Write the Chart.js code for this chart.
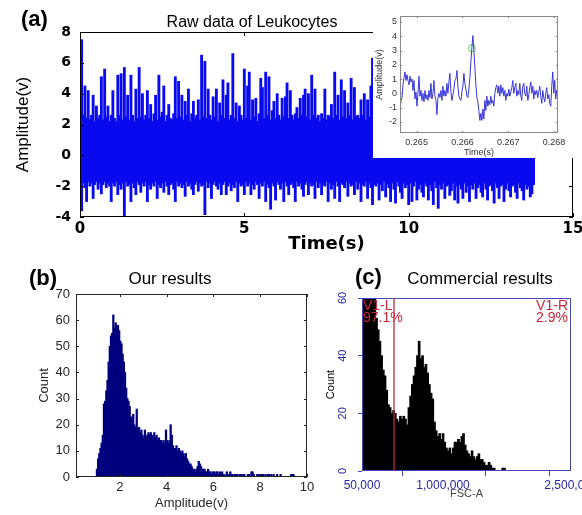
<!DOCTYPE html>
<html>
<head>
<meta charset="utf-8">
<title>Leukocytes: raw signal and amplitude histograms</title>
<script src="https://cdn.jsdelivr.net/npm/chart.js@4.4.1/dist/chart.umd.min.js"></script>
<style>
  body { margin: 0; background: #fff; }
  #page { position: relative; width: 582px; height: 515px; overflow: hidden; font-family: "Liberation Sans", Arial, sans-serif; }
  canvas, .txt { position: absolute; }
  .txt { white-space: nowrap; line-height: 1; color: #000; }
  .gate { color: #c8283c; font-size: 14px; }
</style>
</head>
<body>
<div id="page">
  <canvas id="raw" width="582" height="255" style="left:0px;top:0px"></canvas>
  <canvas id="zoom" width="209" height="158" style="left:373px;top:0px;background:#fff"></canvas>
  <canvas id="ours" width="320" height="260" style="left:0px;top:255px"></canvas>
  <canvas id="commercial" width="262" height="260" style="left:320px;top:255px"></canvas>

  <div class="txt" style="left:21px;top:8px;font-size:22px;font-weight:bold">(a)</div>
  <div class="txt" style="left:152px;top:14px;width:200px;text-align:center;font-size:16px">Raw data of Leukocytes</div>
  <div class="txt" style="left:29px;top:267px;font-size:22px;font-weight:bold">(b)</div>
  <div class="txt" style="left:100px;top:270px;width:140px;text-align:center;font-size:17px">Our results</div>
  <div class="txt" style="left:355px;top:266px;font-size:22px;font-weight:bold">(c)</div>
  <div class="txt" style="left:400px;top:270px;width:160px;text-align:center;font-size:17px">Commercial results</div>
  <div class="txt gate" id="gateLName" style="left:363px;top:298px"></div>
  <div class="txt gate" id="gateLPct" style="left:363px;top:310px"></div>
  <div class="txt gate" id="gateRName" style="right:14px;top:298px;text-align:right"></div>
  <div class="txt gate" id="gateRPct" style="right:14px;top:310px;text-align:right"></div>
</div>
<script>
// (a) raw signal, one sample every 50 ms: upper and lower excursion per sample
const RAW_STEP_S = 0.05
const rawHigh = [
  2.5, 7.5, 2.6, 4.5, 2.4, 4.2, 2.3, 2.6, 3.9, 2.2, 3.2, 2.4, 2.6, 5.1, 2.3, 5.6, 2.5, 3.2, 2.2, 2.6,
  4.2, 2.4, 2.2, 5.2, 2.6, 5.3, 2.3, 5.7, 2.5, 3.9, 2.3, 5.2, 2.6, 2.2, 4.3, 2.4, 5.7, 2.5, 4.0, 2.3,
  2.6, 4.2, 2.4, 3.3, 2.2, 2.7, 3.9, 2.3, 5.2, 2.5, 2.8, 4.5, 2.2, 2.6, 3.3, 2.4, 2.3, 2.7, 5.1, 2.4,
  4.8, 2.5, 3.9, 2.3, 3.5, 2.6, 4.3, 2.2, 2.7, 3.5, 2.4, 2.6, 3.6, 2.3, 6.5, 2.5, 6.1, 2.4, 4.3, 2.6,
  2.3, 3.8, 2.5, 4.3, 2.2, 3.4, 2.6, 4.9, 2.4, 3.9, 4.7, 2.3, 2.6, 6.6, 2.4, 3.4, 2.2, 3.2, 2.6, 2.3,
  5.6, 2.4, 4.5, 5.4, 2.3, 3.6, 2.5, 3.7, 2.2, 2.7, 5.0, 4.4, 2.4, 5.4, 2.6, 5.1, 2.3, 2.9, 3.5, 2.4,
  4.0, 2.6, 2.3, 3.7, 2.5, 3.8, 4.7, 2.4, 4.2, 2.6, 2.3, 2.7, 3.1, 2.4, 3.7, 2.6, 3.9, 4.3, 2.5, 4.0,
  2.3, 5.2, 2.6, 4.3, 2.4, 2.6, 2.2, 2.7, 2.4, 4.3, 2.3, 2.6, 2.5, 3.3, 2.4, 5.4, 2.6, 3.9, 2.3, 4.9,
  2.5, 4.2, 2.4, 3.4, 2.6, 5.0, 2.3, 4.4, 2.5, 2.6, 2.4, 3.6, 2.6, 4.0, 2.3, 3.6, 2.5, 4.5, 6.3, 2.4,
  2.6, 3.8, 2.3, 4.6, 2.5, 2.7, 5.0, 2.4, 3.3, 2.6, 4.1, 2.3, 2.8, 5.5, 2.4, 3.6, 2.6, 2.3, 4.4, 2.5,
  3.1, 2.4, 4.8, 2.6, 2.3, 3.9, 2.5, 5.2, 2.4, 2.7, 3.5, 2.3, 4.2, 2.6, 2.4, 6.0, 2.5, 3.0, 2.3, 4.5,
  2.6, 2.4, 3.7, 2.5, 5.1, 2.3, 2.7, 4.0, 2.4, 3.3, 2.6, 4.9, 2.3, 2.5, 3.8, 2.4, 2.6, 5.3, 2.4, 3.2,
  2.5, 4.3, 2.3, 2.6, 3.6, 2.4, 5.0, 2.5, 2.7, 4.1, 2.3, 3.4, 2.6, 2.4, 4.7, 2.5, 2.3, 3.9, 2.6, 2.4,
  4.4, 2.5, 2.7, 3.5, 2.3, 5.1, 2.4, 2.6, 3.8, 2.5, 2.3, 4.2, 2.6, 2.4, 3.3, 2.5, 2.4
]
const rawLow = [
  -1.9, -3.6, -1.8, -2.1, -3.0, -1.7, -2.0, -1.8, -2.8, -1.9, -1.7, -2.2, -1.8, -2.5, -1.9, -1.7, -2.1, -1.8, -2.0, -3.0,
  -1.8, -2.0, -1.7, -2.55, -1.9, -2.2, -1.8, -3.96, -1.7, -2.0, -1.9, -3.0, -1.8, -2.1, -2.55, -1.7, -1.9, -2.4, -1.8, -2.0,
  -1.7, -3.0, -1.9, -2.2, -1.8, -2.0, -1.7, -2.8, -1.9, -2.1, -1.8, -2.4, -1.7, -2.0, -2.55, -1.9, -1.8, -2.2, -3.0, -1.7,
  -2.0, -1.8, -2.1, -1.9, -2.66, -1.7, -2.0, -1.8, -2.2, -2.55, -1.9, -1.7, -2.33, -1.8, -2.0, -1.9, -3.85, -1.7, -2.1, -1.8,
  -2.8, -1.9, -1.7, -2.0, -2.2, -1.8, -2.55, -1.9, -1.7, -2.55, -2.0, -1.8, -2.3, -1.9, -2.1, -1.7, -3.0, -1.8, -2.0, -1.9,
  -2.55, -1.7, -2.0, -1.8, -2.55, -1.9, -2.2, -1.7, -1.9, -2.8, -1.8, -2.0, -1.7, -3.0, -1.9, -2.1, -3.5, -1.8, -2.0, -2.9,
  -1.7, -1.9, -2.2, -1.8, -3.0, -1.7, -2.0, -2.55, -1.9, -1.8, -2.1, -3.0, -1.7, -2.0, -1.8, -2.2, -2.66, -1.9, -1.7, -2.55,
  -1.8, -2.0, -1.9, -2.8, -1.7, -2.1, -1.8, -2.55, -1.9, -2.0, -1.7, -3.0, -1.8, -2.2, -1.9, -2.8, -1.7, -2.0, -3.0, -1.8,
  -1.9, -2.1, -1.7, -2.66, -1.8, -2.0, -1.9, -2.55, -1.7, -2.2, -1.8, -3.0, -1.9, -2.0, -1.7, -2.8, -1.8, -2.1, -3.2, -1.9,
  -2.0, -1.8, -2.9, -1.9, -2.3, -1.7, -2.7, -1.9, -2.1, -3.0, -1.8, -2.2, -3.1, -1.7, -2.0, -2.4, -2.8, -1.8, -2.1, -1.9,
  -3.2, -1.8, -3.0, -2.0, -1.7, -2.9, -2.2, -1.9, -2.4, -2.7, -1.8, -2.0, -2.9, -1.9, -2.3, -3.2, -1.7, -2.1, -3.44, -1.9,
  -2.2, -1.8, -2.8, -2.0, -1.9, -2.6, -2.3, -1.8, -2.9, -2.0, -3.1, -1.9, -2.2, -2.8, -1.8, -2.4, -2.0, -3.0, -1.9, -2.2,
  -1.8, -2.8, -2.1, -1.9, -2.4, -2.7, -1.8, -2.2, -2.9, -2.0, -1.9, -2.3, -3.1, -1.8, -2.1, -2.8, -2.0, -1.9, -3.0, -2.2,
  -1.8, -2.3, -2.7, -2.0, -1.9, -2.4, -2.8, -1.8, -2.1, -2.3, -2.9, -1.9, -2.2, -2.0, -2.7, -2.5, -1.9
]
const timeTicks = [0, 5, 10, 15]
const ampTicks = [-4, -2, 0, 2, 4, 6, 8]

// (a) inset: one detected pulse, sampled every 21.8 us
const INSET_START_S = 0.264637
const INSET_STEP_S = 0.0000218
const insetAmp = [
  -0.7, -0.5, -0.3, 0.6, 1.1, 1.5, 0.9, 1.3, 0.9, 0.6, 1.2, 0.8, 1.0, 0.2, 0.9, -0.4, 0.1, -0.9, 0.0, 1.2,
  -0.2, 0.2, -0.5, 0.0, -0.6, 0.2, -0.4, -0.1, -0.5, 0.2, -0.3, 0.7, -0.4, 0.0, 0.9, -0.2, -0.5, -1.5, -0.3, 0.0,
  -0.3, 0.2, -0.5, 0.5, -0.2, 0.2, -0.2, 0.7, 0.0, 0.8, 1.4, 0.1, -0.5, -0.1, 0.3, 0.9, 1.0, 1.6, 0.5, -0.2,
  -0.4, -0.5, 0.1, 0.5, 1.4, 0.7, 0.3, -0.2, -0.3, 0.3, 1.1, 2.2, 3.2, 4.05, 3.0, 1.8, 0.6, -0.3, -0.6, -1.2,
  -1.9, -1.4, -1.9, -1.1, -1.8, -0.5, -1.2, -0.2, -0.9, -0.5, -0.8, -0.2, -0.7, -0.5, -0.9, 0.0, 0.4, 0.6, 0.0, 0.5,
  -0.2, 0.6, 0.0, 0.4, -0.2, 0.2, -0.5, 0.0, -0.2, 0.3, -0.2, 0.1, 0.4, 0.9, 0.0, 0.4, 0.7, -0.2, 0.2, -0.1,
  0.7, -0.2, -0.5, 0.5, 0.7, 0.0, -0.2, 0.5, -0.5, -0.1, 0.4, 0.8, 0.0, 0.5, -0.4, 0.2, -0.1, 0.2, -0.3, 0.1,
  0.5, -0.2, -0.7, 0.2, -0.3, -0.6, 0.0, 0.4, -0.4, -0.1, -0.7, -0.9, 0.5, 1.5, 0.0, 0.9, -0.4, 0.2, -0.3
]
const markTime = 0.266207
const markAmp = 3.16
const insetTimeTicks = [0.265, 0.266, 0.267, 0.268]
const insetAmpTicks = [-2, -1, 0, 1, 2, 3, 4, 5]

// (b) our histogram, 0.05 V bins from 1.0 V
const OUR_BIN_START = 1.0
const OUR_BIN_WIDTH = 0.05
const ourCounts = [
  3, 7, 9, 11, 13, 16, 28, 29, 33, 37, 44, 50, 54, 55, 62, 57, 59, 58, 58, 56,
  52, 51, 47, 44, 40, 34, 30, 29, 27, 23, 22, 24, 20, 19, 26, 18, 19, 17, 18, 16,
  15, 18, 15, 16, 17, 16, 17, 16, 15, 17, 15, 16, 14, 15, 14, 14, 13, 14, 13, 18,
  14, 13, 14, 20, 16, 12, 11, 11, 12, 10, 11, 10, 9, 10, 9, 8, 9, 7, 6, 5,
  5, 4, 3, 3, 2, 3, 4, 6, 5, 4, 3, 3, 3, 2, 2, 3, 2, 2, 1, 2,
  2, 1, 2, 2, 1, 2, 1, 2, 1, 1, 0, 2, 1, 1, 2, 1, 1, 0, 1, 1,
  1, 0, 1, 1, 0, 1, 1, 0, 0, 1, 1, 0, 2, 2, 1, 0, 0, 1, 1, 1,
  0, 1, 1, 0, 1, 0, 1, 1, 0, 1, 0, 1, 0, 0, 1, 0, 0, 1, 0, 0,
  0, 0, 0, 0, 0, 0, 1, 1, 1, 0
]
const ourAmpTicks = [2, 4, 6, 8, 10]
const ourCountTicks = [0, 10, 20, 30, 40, 50, 60, 70]

// (c) commercial cytometer histogram, 20,000 FSC-A bins from 50,000
const COM_BIN_START = 50000
const COM_BIN_WIDTH = 20000
const comCounts = [
  95, 90, 88, 82, 78, 75, 70, 64, 53, 49, 45, 40, 35, 33, 28, 23, 22, 20, 21, 20,
  18, 17, 19, 18, 19, 18, 16, 22, 26, 30, 33, 36, 40, 45, 39, 40, 36, 37, 34, 30,
  27, 25, 17, 14, 12, 13, 11, 13, 10, 8, 7, 8, 6, 8, 10, 10, 11, 10, 12, 13,
  9, 7, 6, 5, 7, 5, 4, 5, 6, 4, 4, 3, 2, 2, 3, 2, 1, 1, 0, 0,
  0, 0, 1, 1, 0
]
const fscTicks = [50000, 1000000, 2000000, 2500000]
const fscTickLabels = ['50,000', '1,000,000', '', '2,500,000']
const comCountTicks = [0, 20, 40, 60]
const gateFsc = 425000
const gateNames = ['V1-L', 'V1-R']
const gateShares = ['97.1%', '2.9%']

document.getElementById('gateLName').textContent = gateNames[0]
document.getElementById('gateLPct').textContent = gateShares[0]
document.getElementById('gateRName').textContent = gateNames[1]
document.getElementById('gateRPct').textContent = gateShares[1]

const fixWidth = w => scale => { scale.width = w; scale.paddingTop = 0; scale.paddingBottom = 0 }
const fixHeight = h => scale => { scale.height = h; scale.paddingLeft = 0; scale.paddingRight = 0 }
const useTicks = values => scale => { scale.ticks = values.map(value => ({ value })) }
const font = (size, weight, family) => ({ family: family || "'Liberation Sans', Arial", size, weight: weight || 'normal' })
const noAxisLines = { grid: { display: false, drawTicks: false }, border: { display: false } }

// box round the plot area, optional inward ticks on all four sides
const boxFrame = {
  id: 'boxFrame',
  afterDatasetsDraw(chart, args, opts) {
    const { ctx, chartArea: area, scales: { x, y } } = chart
    ctx.save()
    ctx.strokeStyle = opts.color
    ctx.lineWidth = 1
    ctx.strokeRect(Math.round(area.left) + 0.5, Math.round(area.top) + 0.5, Math.round(area.width) - 1, Math.round(area.height) - 1)
    if (opts.tick) {
      ctx.beginPath()
      x.ticks.forEach(t => {
        const px = Math.round(x.getPixelForValue(t.value)) + 0.5
        ctx.moveTo(px, area.bottom); ctx.lineTo(px, area.bottom - opts.tick)
        ctx.moveTo(px, area.top); ctx.lineTo(px, area.top + opts.tick)
      })
      y.ticks.forEach(t => {
        const py = Math.round(y.getPixelForValue(t.value)) + 0.5
        ctx.moveTo(area.left, py); ctx.lineTo(area.left + opts.tick, py)
        ctx.moveTo(area.right, py); ctx.lineTo(area.right - opts.tick, py)
      })
      ctx.stroke()
    }
    ctx.restore()
  }
}

const gateLine = {
  id: 'gateLine',
  afterDatasetsDraw(chart, args, opts) {
    const { ctx, chartArea: area, scales: { x } } = chart
    const px = x.getPixelForValue(opts.value)
    ctx.save()
    ctx.strokeStyle = opts.color
    ctx.lineWidth = 1.3
    ctx.beginPath()
    ctx.moveTo(px, area.top)
    ctx.lineTo(px, area.bottom)
    ctx.stroke()
    ctx.restore()
  }
}

// cytometer style: y tick labels turned on their side
const sideTicks = {
  id: 'sideTicks',
  afterDraw(chart, args, opts) {
    const { ctx, scales: { y } } = chart
    ctx.save()
    ctx.fillStyle = opts.color
    ctx.font = opts.font
    ctx.textAlign = 'center'
    ctx.textBaseline = 'middle'
    y.ticks.forEach(t => {
      ctx.save()
      ctx.translate(opts.x, y.getPixelForValue(t.value))
      ctx.rotate(-Math.PI / 2)
      ctx.fillText(String(t.value), 0, 0)
      ctx.restore()
    })
    ctx.restore()
  }
}

const quiet = { legend: { display: false }, tooltip: { enabled: false } }

new Chart(document.getElementById('raw'), {
  type: 'bar',
  data: {
    datasets: [{
      data: rawHigh.map((hi, i) => ({ x: i * RAW_STEP_S, y: [rawLow[i], hi] })),
      backgroundColor: '#0a0af0',
      borderWidth: 0,
      barThickness: 2.2
    }]
  },
  options: {
    responsive: false, animation: false, events: [],
    layout: { padding: { left: 0, top: 32, right: 9, bottom: 0 } },
    plugins: { ...quiet, boxFrame: { color: '#000', tick: 4 } },
    scales: {
      x: {
        type: 'linear', offset: false, min: 0, max: 15,
        afterBuildTicks: useTicks(timeTicks), afterFit: fixHeight(38), ...noAxisLines,
        ticks: { padding: 3, color: '#000', maxRotation: 0, autoSkip: false, font: font(15, 'bold', "'DejaVu Sans'") },
        title: { display: true, text: 'Time(s)', color: '#000', padding: 0, font: font(18, 'bold', "'DejaVu Sans'") }
      },
      y: {
        min: -4, max: 8,
        afterBuildTicks: useTicks(ampTicks), afterFit: fixWidth(80), ...noAxisLines,
        ticks: { padding: 9, color: '#000', font: font(14, 'bold', "'DejaVu Sans'") },
        title: { display: true, text: 'Amplitude(v)', color: '#000', padding: { top: 13, bottom: 0 }, font: font(17, 'normal', "'Liberation Sans Narrow', 'Liberation Sans'") }
      }
    }
  },
  plugins: [boxFrame]
})

new Chart(document.getElementById('zoom'), {
  type: 'line',
  data: {
    datasets: [{
      data: insetAmp.map((v, i) => ({ x: INSET_START_S + i * INSET_STEP_S, y: v })),
      borderColor: '#3838d8',
      borderWidth: 1,
      pointRadius: 0,
      tension: 0
    }, {
      data: [{ x: markTime, y: markAmp }],
      showLine: false,
      borderColor: '#5acb5a',
      pointRadius: 3.5,
      pointBorderColor: '#5acb5a',
      pointBackgroundColor: 'rgba(0,0,0,0)',
      pointBorderWidth: 1
    }]
  },
  options: {
    responsive: false, animation: false, events: [],
    layout: { padding: { left: 0, top: 16, right: 24, bottom: 0 } },
    plugins: { ...quiet, boxFrame: { color: '#888', tick: 2 } },
    scales: {
      x: {
        type: 'linear', offset: false, min: 0.264637, max: 0.268087,
        afterBuildTicks: useTicks(insetTimeTicks), afterFit: fixHeight(25), ...noAxisLines,
        ticks: { padding: 4, color: '#333', maxRotation: 0, autoSkip: false, font: font(9) },
        title: { display: true, text: 'Time(s)', color: '#333', padding: 0, font: font(9) }
      },
      y: {
        min: -2.78, max: 5.42,
        afterBuildTicks: useTicks(insetAmpTicks), afterFit: fixWidth(27), ...noAxisLines,
        ticks: { padding: 3, color: '#333', font: font(9) },
        title: { display: true, text: 'Amplitude(v)', color: '#333', padding: { top: 1, bottom: 0 }, font: font(9) }
      }
    }
  },
  plugins: [boxFrame]
})

new Chart(document.getElementById('ours'), {
  type: 'bar',
  data: {
    datasets: [{
      data: ourCounts.map((c, i) => ({ x: OUR_BIN_START + (i + 0.5) * OUR_BIN_WIDTH, y: c })),
      backgroundColor: '#00007f',
      borderWidth: 0,
      barThickness: 1.6
    }]
  },
  options: {
    responsive: false, animation: false, events: [],
    layout: { padding: { left: 0, top: 39, right: 13, bottom: 0 } },
    plugins: { ...quiet, boxFrame: { color: '#262626', tick: 3 } },
    scales: {
      x: {
        type: 'linear', offset: false, min: 0.13, max: 10,
        afterBuildTicks: useTicks(ourAmpTicks), afterFit: fixHeight(38), ...noAxisLines,
        ticks: { padding: 3, color: '#262626', maxRotation: 0, autoSkip: false, font: font(13) },
        title: { display: true, text: 'Amplitude(v)', color: '#262626', padding: { top: 0, bottom: 4 }, font: font(13) }
      },
      y: {
        min: 0, max: 70,
        afterBuildTicks: useTicks(ourCountTicks), afterFit: fixWidth(76), ...noAxisLines,
        ticks: { padding: 6, color: '#262626', font: font(13) },
        title: { display: true, text: 'Count', color: '#262626', padding: { top: 37, bottom: 0 }, font: font(13) }
      }
    }
  },
  plugins: [boxFrame]
})

new Chart(document.getElementById('commercial'), {
  type: 'bar',
  data: {
    datasets: [{
      data: comCounts.map((c, i) => ({ x: COM_BIN_START + (i + 0.5) * COM_BIN_WIDTH, y: c })),
      backgroundColor: '#000',
      borderWidth: 0,
      barThickness: 2
    }]
  },
  options: {
    responsive: false, animation: false, events: [],
    layout: { padding: { left: 0, top: 43, right: 11, bottom: 0 } },
    plugins: {
      ...quiet,
      boxFrame: { color: '#4646b4', tick: 0 },
      gateLine: { value: gateFsc, color: '#c8283c' },
      sideTicks: { x: 23, color: '#2828a0', font: "11px 'Liberation Sans', Arial" }
    },
    scales: {
      x: {
        type: 'linear', offset: false, min: 50000, max: 2500000,
        afterBuildTicks: useTicks(fscTicks), afterFit: fixHeight(44),
        grid: { display: true, drawOnChartArea: false, drawTicks: true, tickLength: 5, color: '#4646b4' },
        border: { display: false },
        ticks: { padding: 2, color: '#2828a0', maxRotation: 0, autoSkip: false, font: font(12), callback: (v, i) => fscTickLabels[i] },
        title: { display: true, text: 'FSC-A', color: '#444', padding: { top: 0, bottom: 14 }, font: font(11) }
      },
      y: {
        min: 0, max: 60,
        afterBuildTicks: useTicks(comCountTicks), afterFit: fixWidth(42),
        grid: { display: true, drawOnChartArea: false, drawTicks: true, tickLength: 4, color: '#4646b4' },
        border: { display: false },
        ticks: { display: false },
        title: { display: true, text: 'Count', color: '#000', padding: { top: 4, bottom: 0 }, font: font(11) }
      }
    }
  },
  plugins: [boxFrame, gateLine, sideTicks]
})
</script>
</body>
</html>
